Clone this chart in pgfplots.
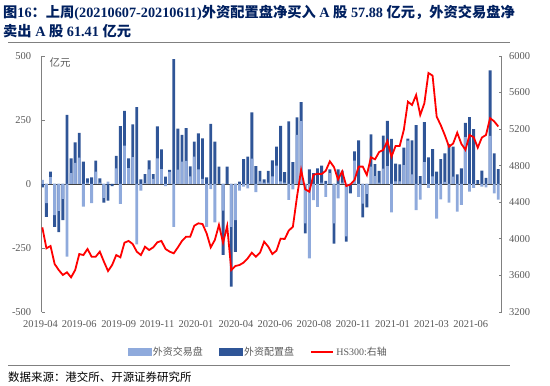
\documentclass[border=0pt]{standalone}
\usepackage{fontspec}
\setmainfont{Liberation Serif}
\newfontfamily\cjk{Noto Sans CJK SC}
\usepackage{pgfplots}
\usepackage{pgfplotstable}
\pgfplotsset{compat=1.18}
\definecolor{lightb}{RGB}{143,170,220}
\definecolor{darkb}{RGB}{47,85,151}
\definecolor{titleb}{RGB}{0,32,96}
\definecolor{tickg}{RGB}{89,89,89}
\definecolor{axg}{RGB}{128,128,128}

\pgfplotstableread{
i L D HS
1 16 -13 4126
2 -75 -128 3897
3 27 48 3922
4 -122 -167 3725
5 -105 -188 3659
6 -58 -141 3605
7 -284 270 3634
8 42 100 3579
9 83 163 3659
10 103 200 3834
11 -88 87 3823
12 5 22 3889
13 -75 26 3805
14 48 91 3805
15 5 22 3860
16 -54 -73 3750
17 9 -65 3648
18 0 -8 3714
19 61 110 3823
20 -78 226 3798
21 150 286 3958
22 62 100 3977
23 105 233 3944
24 -236 300 3860
25 -26 18 3823
26 3 39 3914
27 57 92 3878
28 20 39 3907
29 100 225 3962
30 58 135 3977
31 -8 29 3889
32 47 55 3860
33 -167 488 3842
34 56 216 3907
35 87 192 3977
36 90 218 4024
37 30 69 4024
38 107 166 4144
39 57 198 4170
40 20 178 4162
41 -167 26 4060
42 -20 235 3907
43 -150 166 3988
44 0 68 4152
45 -104 -277 3958
46 0 68 4141
47 -167 -401 3659
48 -141 -265 3703
49 -26 9 3714
50 -10 97 3740
51 -17 107 3787
52 99 280 3849
53 -32 70 3805
54 10 51 3849
55 5 18 3969
56 5 51 3915
57 30 92 3834
58 72 146 3871
59 10 227 4002
60 5 46 3999
61 -62 245 4090
62 -21 85 4133
63 192 260 4461
64 246 320 4753
65 -154 -193 4542
66 -291 57 4516
67 -63 42 4700
68 -89 61 4712
69 5 72 4709
70 -50 12 4745
71 42 57 4848
72 -154 -233 4785
73 -56 57 4650
74 5 52 4738
75 -205 -225 4578
76 0 -37 4595
77 91 127 4644
78 -50 170 4790
79 -77 -130 4790
80 -39 -91 4698
81 68 194 4892
82 31 78 4870
83 5 51 4950
84 60 189 4972
85 70 247 5070
86 -111 176 4899
87 10 80 5016
88 10 77 5016
89 74 142 5191
90 169 177 5500
91 38 170 5464
92 -102 230 5573
93 -61 31 5355
94 85 242 5482
95 -15 104 5814
96 30 136 5785
97 -135 48 5336
98 -60 97 5243
99 8 120 5132
100 -73 156 5008
101 29 146 5042
102 -108 38 5161
103 -82 61 5040
104 183 239 4974
105 -30 261 5136
106 -15 214 5112
107 0 15 4998
108 -10 52 5108
109 -13 24 5136
110 188 444 5320
111 -37 120 5285
112 -61.41 57.88 5229
}\data

\begin{document}
\begin{tikzpicture}
\useasboundingbox (0bp,0bp) rectangle (550bp,386bp);
\node[anchor=west, text=titleb, font=\bfseries\fontsize{14.3}{16}\selectfont, inner sep=0pt] at (3bp,373bp)
 {{\cjk 图}16{\cjk ：上周}(20210607-20210611){\cjk 外资配置盘净买入} A {\cjk 股} 57.88 {\cjk 亿元，外资交易盘净}};
\node[anchor=west, text=titleb, font=\bfseries\fontsize{14.3}{16}\selectfont, inner sep=0pt] at (3bp,355bp)
 {{\cjk 卖出} A {\cjk 股} 61.41 {\cjk 亿元}};
\draw[axg, line width=0.8bp] (8bp,343.5bp) -- (510bp,343.5bp);
\draw[axg, line width=0.8bp] (8bp,21bp) -- (510bp,21bp);
\node[anchor=west, inner sep=0pt, font=\fontsize{11.5}{13}\selectfont] at (8bp,9bp) {\cjk 数据来源：港交所、开源证券研究所};

\begin{axis}[
  at={(41.7bp,74bp)}, anchor=south west, scale only axis,
  width=460bp, height=256bp,
  xmin=0.85, xmax=112.83, ymin=-500, ymax=500,
  ytick={-500,-250,0,250,500},
  axis y line*=left, axis x line*=bottom,
  x axis line style={draw=none},
  y axis line style={axg, line width=0.8bp},
  xtick={1.06,10.48,20.09,29.42,38.91,48.65,58.14,67.64,77.13,86.75,96.24,105.8},
  xticklabels={2019-04,2019-06,2019-09,2019-11,2020-01,2020-04,2020-06,2020-08,2020-11,2021-01,2021-03,2021-06},
  xtick style={draw=none},
  xticklabel style={xshift=-2.05bp, yshift=-5bp, font=\fontsize{10.5}{12}\selectfont, text=tickg},
  yticklabel style={xshift=-7bp, font=\fontsize{10.5}{12}\selectfont, text=tickg},
  ytick style={axg, line width=0.8bp},
  major tick length=3bp,
  /pgf/number format/assume math mode=true,
  /pgf/number format/1000 sep={},
  extra y ticks={0}, extra y tick labels={},
  extra y tick style={grid=major, major grid style={black!75, line width=0.9bp}, major tick length=0pt},
]
\addplot[ybar, bar width=0.7, fill=darkb, draw=none] table[x=i,y=D]{\data};
\addplot[ybar, bar width=0.7, fill=lightb, draw=none] table[x=i,y=L]{\data};
\end{axis}

\begin{axis}[
  at={(41.7bp,74bp)}, anchor=south west, scale only axis,
  width=460bp, height=256bp,
  xmin=0.85, xmax=112.83, ymin=3200, ymax=6000,
  ytick={3200,3600,4000,4400,4800,5200,5600,6000},
  axis y line*=right, axis x line=none,
  y axis line style={axg, line width=0.8bp},
  yticklabel style={xshift=4bp, font=\fontsize{10.5}{12}\selectfont, text=tickg},
  ytick style={axg, line width=0.8bp},
  major tick length=3bp,
  /pgf/number format/assume math mode=true,
  /pgf/number format/1000 sep={},
  legend columns=3,
  legend style={draw=none, fill=none, at={(0.4707,-0.156)}, anchor=center,
    font=\fontsize{10}{12}\selectfont, text=tickg,
    /tikz/every even column/.append style={column sep=14bp}},
]
\addlegendimage{legend image code/.code={\fill[lightb] (0bp,-3.5bp) rectangle (23bp,3.5bp);}}
\addlegendentry{\cjk 外资交易盘}
\addlegendimage{legend image code/.code={\fill[darkb] (0bp,-3.5bp) rectangle (23bp,3.5bp);}}
\addlegendentry{\cjk 外资配置盘}
\addplot[red, line width=1.8bp, mark=none, legend image code/.code={\draw[red, line width=2.5bp] (0bp,0bp) -- (22bp,0bp);}] table[x=i,y=HS]{\data};
\addlegendentry{HS300:{\cjk 右轴}}
\node[font=\fontsize{10.5}{12}\selectfont, text=tickg] at (rel axis cs:0.04,0.975) {\cjk 亿元};
\end{axis}
\end{tikzpicture}
\end{document}
